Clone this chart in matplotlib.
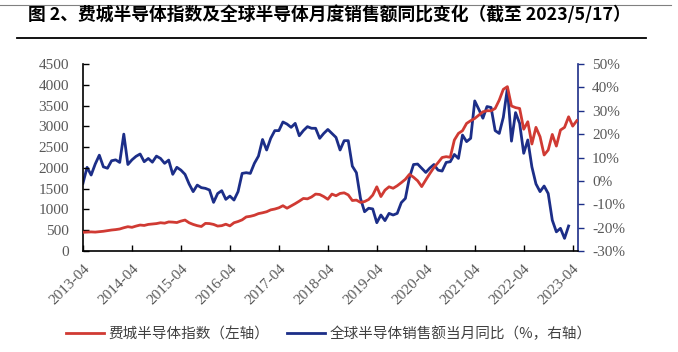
import matplotlib
matplotlib.use('Agg')
import matplotlib.pyplot as plt
from matplotlib.lines import Line2D
import numpy as np

# monthly, starting 2013-04
sox = [450, 455, 460, 455, 465, 475, 490, 505, 515, 530, 560, 585,
       570, 600, 625, 615, 640, 650, 660, 680, 670, 700, 695, 685,
       720, 745, 680, 640, 610, 590, 665, 660, 640, 600, 610, 645,
       605, 680, 710, 750, 820, 835, 860, 900, 920, 945, 990, 1010,
       1040, 1090, 1030, 1085, 1140, 1200, 1265, 1255, 1300, 1370, 1360, 1310,
       1245, 1370, 1330, 1385, 1400, 1350, 1215, 1225, 1170, 1190, 1240, 1345,
       1545, 1310, 1465, 1545, 1510, 1570, 1645, 1725, 1845, 1775, 1690, 1550,
       1710, 1865, 2010, 2125, 2250, 2270, 2255, 2670, 2830, 2895, 3070, 3135,
       3190, 3270, 3350, 3375, 3375, 3430, 3630, 3890, 3955, 3490, 3450, 3430,
       2930, 3110, 2575, 2975, 2750, 2310, 2430, 2805, 2525, 2910, 2975, 3230,
       3005, 3135]

sales_yoy = [-1, 5.8, 2.5, 7.2, 11, 6, 5.4, 8.6, 9, 7.9, 20, 7,
             9, 10.5, 11.5, 8.2, 9.6, 8, 10.6, 9.6, 7.5, 8.9, 2.8, 5.8,
             4.6, 2.8, -1.3, -4.6, -1.8, -2.9, -3.2, -3.9, -9.2, -5.4, -4.2, -7.9,
             -6.5, -8.2, -4.6, 3.2, 3.5, 3.2, 7.5, 10.6, 17.7, 13.2, 18.2, 21.5,
             21.5, 25.2, 24.3, 22.9, 24.6, 19.3, 21.5, 23.2, 22.5, 22.5, 18.2, 20.3,
             22, 20.3, 18.6, 13.2, 17.2, 17.2, 6.3, 3.5, -7.5, -13.2, -11.7, -12,
             -17.9, -14.6, -17, -13.9, -14.6, -13.9, -9.3, -7.5, 1.5, 7, 7.2, 5.4,
             3.6, 5.5, 7, 4.6, 4.2, 7.9, 8.2, 11.3, 9.6, 19.6, 16.8, 18.2,
             34.2, 30.6, 26.8, 31.8, 31.4, 21.5, 20.3, 27.2, 39.6, 17, 29.2, 24.6,
             11.8, 17.5, 6, -1.3, -4.6, -2.2, -5.4, -16.8, -21.8, -20.3, -24.6, -19.3]

tick_labels = ['2013-04', '2014-04', '2015-04', '2016-04', '2017-04', '2018-04',
               '2019-04', '2020-04', '2021-04', '2022-04', '2023-04']

red = '#d03a33'
blue = '#1c2e88'
gray = '#595959'
cjk = ['Noto Sans CJK SC', 'DejaVu Sans']

fig = plt.figure(figsize=(6.78, 3.52), dpi=100)
ax = fig.add_axes([0.1224, 0.2869, 0.7301, 0.5313])
ax2 = ax.twinx()

x1 = np.arange(len(sox))
x2 = np.arange(len(sales_yoy))
l1, = ax.plot(x1, sox, color=red, lw=2.0, zorder=3)
l2, = ax2.plot(x2, sales_yoy, color=blue, lw=2.0)
ax.set_zorder(ax2.get_zorder() + 1)
ax.patch.set_visible(False)

ax.set_xlim(0, 121.3)
ax.set_ylim(0, 4500)
ax.set_yticks(np.arange(0, 4501, 500))
ax2.set_ylim(-30, 50)
ax2.set_yticks(np.arange(-30, 51, 10))
ax2.set_yticklabels([f'{v}%' for v in range(-30, 51, 10)])

ax.set_xticks(np.arange(0, 121, 12))
ax.set_xticklabels(tick_labels, rotation=45, ha='right', va='top', rotation_mode='anchor')

for a in (ax, ax2):
    a.spines['top'].set_visible(False)
ax.spines['right'].set_visible(False)
ax2.spines['left'].set_visible(False)
ax2.spines['bottom'].set_visible(False)
ax2.spines['right'].set_color(blue)
ax2.spines['right'].set_linewidth(1.2)
ax.spines['left'].set_linewidth(1.2)
ax.spines['bottom'].set_linewidth(1.2)

ax.tick_params(axis='y', direction='in', length=4, width=1, labelsize=11,
               labelcolor=gray, labelfontfamily='Liberation Serif', pad=10)
ax.tick_params(axis='x', direction='in', length=4, width=1, labelsize=11,
               labelcolor=gray, labelfontfamily='Liberation Serif', pad=8)
ax2.tick_params(axis='y', direction='out', length=4, width=1, color=blue, labelsize=11,
                labelcolor=gray, labelfontfamily='Liberation Serif', pad=6)

fig.text(0.041, 0.957, '图 2、费城半导体指数及全球半导体月度销售额同比变化（截至 2023/5/17）',
         fontsize=12.8, fontweight='bold', family=cjk, ha='left', va='center', color='black')
fig.add_artist(Line2D([0, 0.99], [1 - 5 / 352] * 2, color='#808080', lw=0.8))
fig.add_artist(Line2D([17 / 678, 646 / 678], [1 - 38 / 352] * 2, color='black', lw=1.3))

leg = fig.legend([l1, l2], ['费城半导体指数（左轴）', '全球半导体销售额当月同比（%，右轴）'],
                 loc='center', bbox_to_anchor=(0.485, 1 - 334 / 352), ncol=2, frameon=False,
                 prop={'family': cjk, 'size': 10.5}, handlelength=2.6, columnspacing=1.2,
                 handletextpad=0.3)
for t in leg.get_texts():
    t.set_color('#404040')

fig.savefig('out.png', dpi=100)
